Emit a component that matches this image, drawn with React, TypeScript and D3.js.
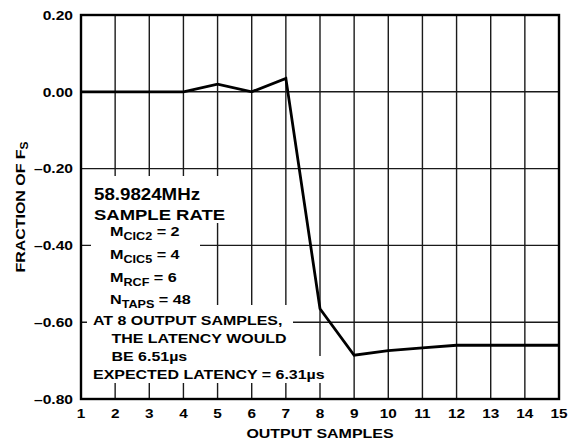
import React from "react";
import * as d3 from "d3";

const samples = [1, 2, 3, 4, 5, 6, 7, 8, 9, 10, 11, 12, 13, 14, 15];
const fraction = [0, 0, 0, 0, 0.02, 0, 0.035, -0.565, -0.686, -0.674, -0.667, -0.66, -0.66, -0.66, -0.66];
const yTicks = [0.2, 0, -0.2, -0.4, -0.6, -0.8];
const xTicks = samples;

const W = 569;
const H = 439;
const FONT = "'Liberation Sans', Arial, sans-serif";
const SX = 1.2;

type TProps = {
  x: number;
  y: number;
  size: number;
  anchor?: "start" | "middle" | "end";
  rotate?: number;
  children?: React.ReactNode;
};

function T({ x, y, size, anchor = "start", rotate = 0, children }: TProps) {
  return (
    <text
      transform={`translate(${x},${y}) rotate(${rotate}) scale(${SX},1)`}
      textAnchor={anchor}
      fontSize={size}
      fontWeight="bold"
      fontFamily={FONT}
      fill="#000"
    >
      {children}
    </text>
  );
}

export default function App() {
  const x = d3.scaleLinear().domain([1, 15]).range([81, 559]);
  const y = d3.scaleLinear().domain([-0.8, 0.2]).range([399, 15]);
  const line = d3
    .line<number>()
    .x((_, i) => x(samples[i]))
    .y((d) => y(d));

  const fmt = (v: number) => {
    const s = Math.abs(v).toFixed(2);
    return v < -1e-9 ? "\u2013" + s : s;
  };

  const boxes = [
    { x0: 83, y0: 176, x1: 234, y1: 223 },
    { x0: 91, y0: 222, x1: 200, y1: 306 },
    { x0: 87, y0: 305, x1: 293, y1: 357 },
    { x0: 83, y0: 356, x1: 332, y1: 383 },
  ];

  const sub = (main: string, s: string, rest: string, tx: number, ty: number) => (
    <T x={tx} y={ty} size={13.5}>
      {main}
      <tspan fontSize={10.5} dy={4}>
        {s}
      </tspan>
      <tspan dy={-4}>{rest}</tspan>
    </T>
  );

  return (
    <svg width={W} height={H} style={{ position: "fixed", left: 0, top: 0, background: "#fff" }}>
      <rect x={0} y={0} width={W} height={H} fill="#fff" />
      {/* grid */}
      {yTicks.map((t) => (
        <line key={"gy" + t} x1={x(1)} x2={x(15)} y1={y(t)} y2={y(t)} stroke="#1a1a1a" strokeWidth={1.4} />
      ))}
      {xTicks.map((t) => (
        <line key={"gx" + t} x1={x(t)} x2={x(t)} y1={y(0.2)} y2={y(-0.8)} stroke="#1a1a1a" strokeWidth={1.4} />
      ))}
      {/* annotation background */}
      {boxes.map((b, i) => (
        <rect key={"b" + i} x={b.x0} y={b.y0} width={b.x1 - b.x0} height={b.y1 - b.y0} fill="#fff" />
      ))}
      {/* data */}
      <path d={line(fraction) || ""} fill="none" stroke="#000" strokeWidth={2.8} strokeLinejoin="miter" />
      {/* frame */}
      <rect x={x(1)} y={y(0.2)} width={x(15) - x(1)} height={y(-0.8) - y(0.2)} fill="none" stroke="#000" strokeWidth={2.4} />
      {/* y tick labels */}
      {yTicks.map((t) => (
        <T key={"ly" + t} x={73} y={y(t) + 4.7} size={13} anchor="end">
          {fmt(t)}
        </T>
      ))}
      {/* x tick labels */}
      {xTicks.map((t) => (
        <T key={"lx" + t} x={x(t)} y={418} size={12.8} anchor="middle">
          {t}
        </T>
      ))}
      <T x={(x(1) + x(15)) / 2} y={437.5} size={13.3} anchor="middle">
        OUTPUT SAMPLES
      </T>
      <T x={25} y={(y(0.2) + y(-0.8)) / 2} size={13.3} anchor="middle" rotate={-90}>
        FRACTION OF F
        <tspan fontSize={10} dy={3}>
          S
        </tspan>
      </T>
      {/* annotation */}
      <T x={94} y={200} size={15.6}>
        58.9824MHz
      </T>
      <T x={94} y={220} size={15.4}>
        SAMPLE RATE
      </T>
      {sub("M", "CIC2", " = 2", 110, 235.5)}
      {sub("M", "CIC5", " = 4", 110, 258.5)}
      {sub("M", "RCF", " = 6", 110, 282)}
      {sub("N", "TAPS", " = 48", 110, 303.5)}
      <T x={93} y={325} size={13.3}>
        AT 8 OUTPUT SAMPLES,
      </T>
      <T x={111.5} y={343} size={13.3}>
        THE LATENCY WOULD
      </T>
      <T x={111.5} y={361} size={13.3}>
        BE 6.51µs
      </T>
      <T x={93} y={379} size={13.3}>
        EXPECTED LATENCY = 6.31µs
      </T>
    </svg>
  );
}
